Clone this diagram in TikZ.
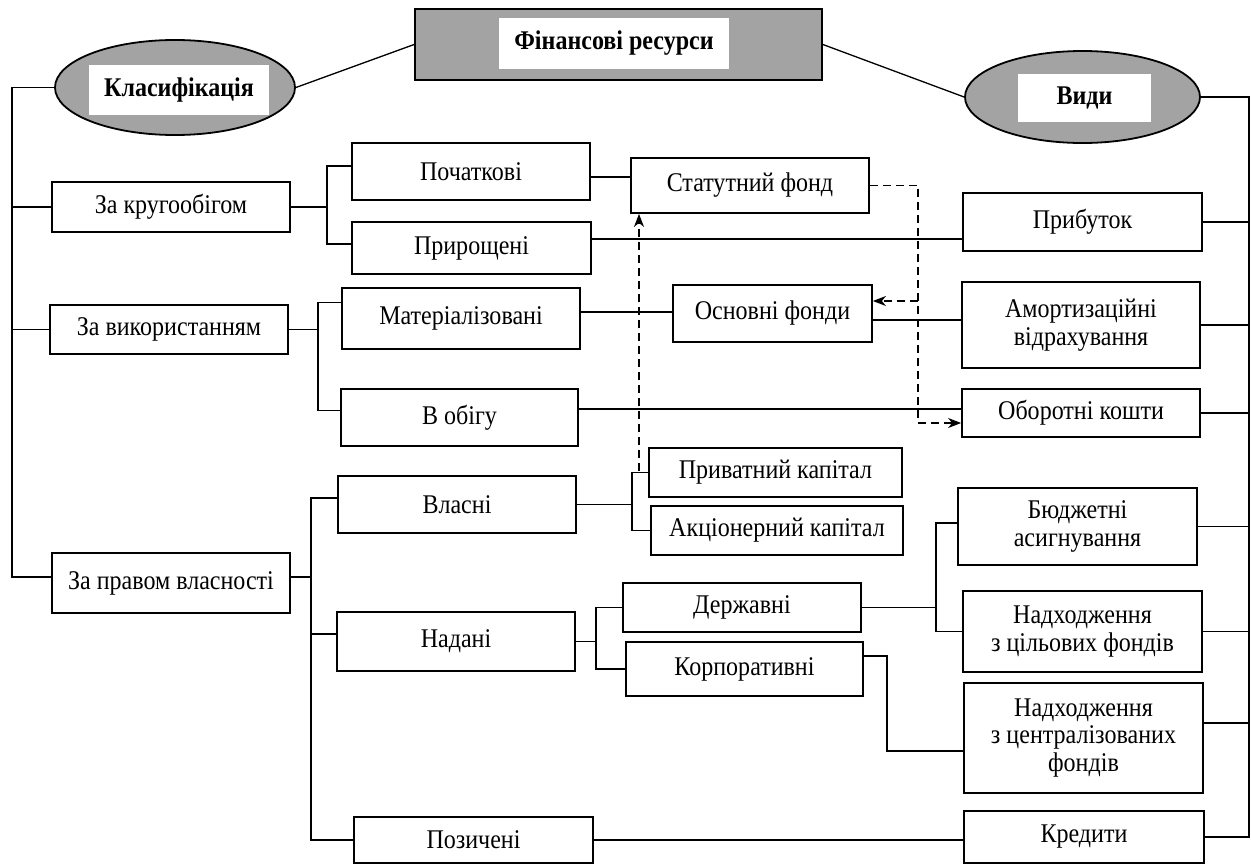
\documentclass[tikz,border=0pt]{standalone}
\usepackage{fontspec}
\setmainfont{Liberation Serif}[FakeStretch=0.89]
\usetikzlibrary{shapes.geometric,arrows.meta}
\definecolor{hdrgray}{RGB}{163,163,163}
\tikzset{
  box/.style={draw, line width=1.8pt, inner sep=0pt, align=center, font=\fontsize{27}{27.5}\selectfont},
  hdrbox/.style={draw, line width=1.8pt, fill=hdrgray, inner sep=0pt},
  hdrell/.style={ellipse, draw, line width=1.8pt, fill=hdrgray, inner sep=0pt},
  hdrtxt/.style={fill=white, inner sep=0pt, font=\bfseries\fontsize{27}{28}\selectfont},
  conn/.style={line width=1.3pt},
  dconn/.style={line width=1.3pt, dash pattern=on 8pt off 5pt},
  darrow/.style={-{Stealth[length=13pt,width=10pt,inset=4pt]}}
}
\begin{document}
\begin{tikzpicture}[x=1pt,y=-1pt]
\useasboundingbox (0,0) rectangle (1251,865);
% header
\node[hdrbox, minimum width=407pt, minimum height=71pt] (title) at (618.5,44.5) {};
\node[hdrtxt, minimum width=230pt, minimum height=51pt] (titletxt) at (614,43.5) {Фінансові ресурси};
\node[hdrell, minimum width=240pt, minimum height=95pt] (klas) at (175,87.5) {};
\node[hdrtxt, minimum width=180pt, minimum height=50pt] (klastxt) at (179,90) {Класифікація};
\node[hdrell, minimum width=235pt, minimum height=92pt] (vydy) at (1082.5,97) {};
\node[hdrtxt, minimum width=133pt, minimum height=48pt] (vydytxt) at (1084.5,98) {Види};
% left column
\node[box, minimum width=238pt, minimum height=50pt] (kr) at (171,207) {За кругообігом};
\node[box, minimum width=238pt, minimum height=49pt] (vyk) at (169,329.5) {За використанням};
\node[box, minimum width=238pt, minimum height=60pt] (prav) at (171,583) {За правом власності};
% second column
\node[box, minimum width=238pt, minimum height=57pt] (poch) at (471,171.5) {Початкові};
\node[box, minimum width=239pt, minimum height=52pt] (prir) at (471.5,248) {Прирощені};
\node[box, minimum width=238pt, minimum height=61pt] (mat) at (461,318.5) {Матеріалізовані};
\node[box, minimum width=237pt, minimum height=57pt] (obig) at (459.5,417.5) {В обігу};
\node[box, minimum width=238pt, minimum height=57pt] (vlas) at (457,504.5) {Власні};
\node[box, minimum width=238pt, minimum height=59pt] (nad) at (456,641.5) {Надані};
\node[box, minimum width=239pt, minimum height=46pt] (poz) at (473.5,840) {Позичені};
% third column
\node[box, minimum width=238pt, minimum height=55pt] (stat) at (750,185.5) {Статутний фонд};
\node[box, minimum width=199pt, minimum height=57pt] (osn) at (772.5,313.5) {Основні фонди};
\node[box, minimum width=253pt, minimum height=49pt] (priv) at (775.5,472.5) {Приватний капітал};
\node[box, minimum width=252pt, minimum height=49pt] (akc) at (777,530.5) {Акціонерний капітал};
\node[box, minimum width=238pt, minimum height=49pt] (derzh) at (742,607.5) {Державні};
\node[box, minimum width=237pt, minimum height=54pt] (korp) at (744.5,669) {Корпоративні};
% right column
\node[box, minimum width=239pt, minimum height=58pt] (prib) at (1082.5,222) {Прибуток};
\node[box, minimum width=238pt, minimum height=86pt] (amort) at (1081,325) {Амортизаційні\\відрахування};
\node[box, minimum width=238pt, minimum height=48pt] (obor) at (1081,413) {Оборотні кошти};
\node[box, minimum width=239pt, minimum height=77pt] (budg) at (1077.5,526.5) {Бюджетні\\асигнування};
\node[box, minimum width=239pt, minimum height=81pt] (tsil) at (1082.5,631.5) {Надходження\\з цільових фондів};
\node[box, minimum width=239pt, minimum height=110pt] (tsentr) at (1083.5,738) {Надходження\\з централізованих\\фондів};
\node[box, minimum width=240pt, minimum height=52pt] (kred) at (1084,837) {Кредити};
% helper coordinates
\coordinate (lbus) at (12,0);
\coordinate (rbus) at (1249,0);
\coordinate (bk) at (327,0);
\coordinate (bv) at (318,0);
\coordinate (bp) at (311,0);
\coordinate (bvl) at (632,0);
\coordinate (bn) at (596,0);
\coordinate (bd) at (936,0);
\coordinate (bc) at (887,0);
\coordinate (dx) at (918,0);
\coordinate (dv) at (639,471);
\coordinate (pravE) at ([yshift=6pt]prav.east);
\coordinate (pravW) at ([yshift=6pt]prav.west);
\coordinate (matW) at ([yshift=16pt]mat.west);
\coordinate (obigW) at ([yshift=7pt]obig.west);
\coordinate (vlasW) at ([yshift=6.5pt]vlas.west);
\coordinate (nadW) at ([yshift=7.5pt]nad.west);
\coordinate (pochW) at ([yshift=5.5pt]poch.west);
\coordinate (prirW) at ([yshift=4pt]prir.west);
\coordinate (oborD) at ([yshift=-10pt]obor.west);
\coordinate (osnD) at ([yshift=12.5pt]osn.east);
\coordinate (korpE) at ([yshift=13pt]korp.east);
\coordinate (tsentrW) at ([yshift=-13pt]tsentr.west);
\coordinate (tsentrE) at ([yshift=15pt]tsentr.east);
\coordinate (budgW) at ([yshift=3.5pt]budg.west);
% header links
\draw[conn] (title.west) -- (klas.east);
\draw[conn] (title.east) -- (vydy.west);
% left bus
\draw[conn] (klas.west) -- (klas.west -| lbus) |- (pravW);
\draw[conn] (kr.west) -- (kr.west -| lbus);
\draw[conn] (vyk.west) -- (vyk.west -| lbus);
% right bus
\draw[conn] (vydy.east) -- (vydy.east -| rbus) |- (kred.east);
\foreach \n in {prib,amort,obor,budg,tsil}
  \draw[conn] (\n.east) -- (\n.east -| rbus);
\draw[conn] (tsentrE) -- (tsentrE -| rbus);
% brackets
\draw[conn] (kr.east) -- (kr.east -| bk);
\draw[conn] (pochW) -- (pochW -| bk) -- (prirW -| bk) -- (prirW);
\draw[conn] (vyk.east) -- (vyk.east -| bv);
\draw[conn] (matW) -- (matW -| bv) -- (obigW -| bv) -- (obigW);
\draw[conn] (pravE) -- (pravE -| bp);
\draw[conn] (vlasW) -- (vlasW -| bp) -- (poz.west -| bp) -- (poz.west);
\draw[conn] (nadW) -- (nadW -| bp);
\draw[conn] (vlas.east) -- (vlas.east -| bvl);
\draw[conn] (priv.west) -- (priv.west -| bvl) -- (akc.west -| bvl) -- (akc.west);
\draw[conn] (nad.east) -- (nad.east -| bn);
\draw[conn] (derzh.west) -- (derzh.west -| bn) -- (korp.west -| bn) -- (korp.west);
\draw[conn] (derzh.east) -- (derzh.east -| bd);
\draw[conn] (budgW) -- (budgW -| bd) -- (tsil.west -| bd) -- (tsil.west);
\draw[conn] (korpE) -- (korpE -| bc) |- (tsentrW);
% straight links
\draw[conn] ([yshift=-5.5pt]poch.east) -- ([yshift=8.5pt]stat.west);
\draw[conn] ([yshift=9pt]prir.east) -- ([yshift=-17pt]prib.west);
\draw[conn] ([yshift=6.5pt]mat.east) -- ([yshift=1.5pt]osn.west);
\draw[conn] ([yshift=-6.5pt]osn.east) -- ([yshift=5pt]amort.west);
\draw[conn] ([yshift=8.5pt]obig.east) -- ([yshift=4pt]obor.west);
\draw[conn] (poz.east) -- (poz.east -| kred.west);
% dashed arrows
\draw[dconn, darrow] (dv) -- (dv |- stat.south);
\draw[dconn] (stat.east) -- (stat.east -| dx) -- (oborD -| dx);
\draw[dconn, darrow] (oborD -| dx) -- (oborD);
\draw[dconn, darrow] (osnD -| dx) -- (osnD);
\end{tikzpicture}
\end{document}
